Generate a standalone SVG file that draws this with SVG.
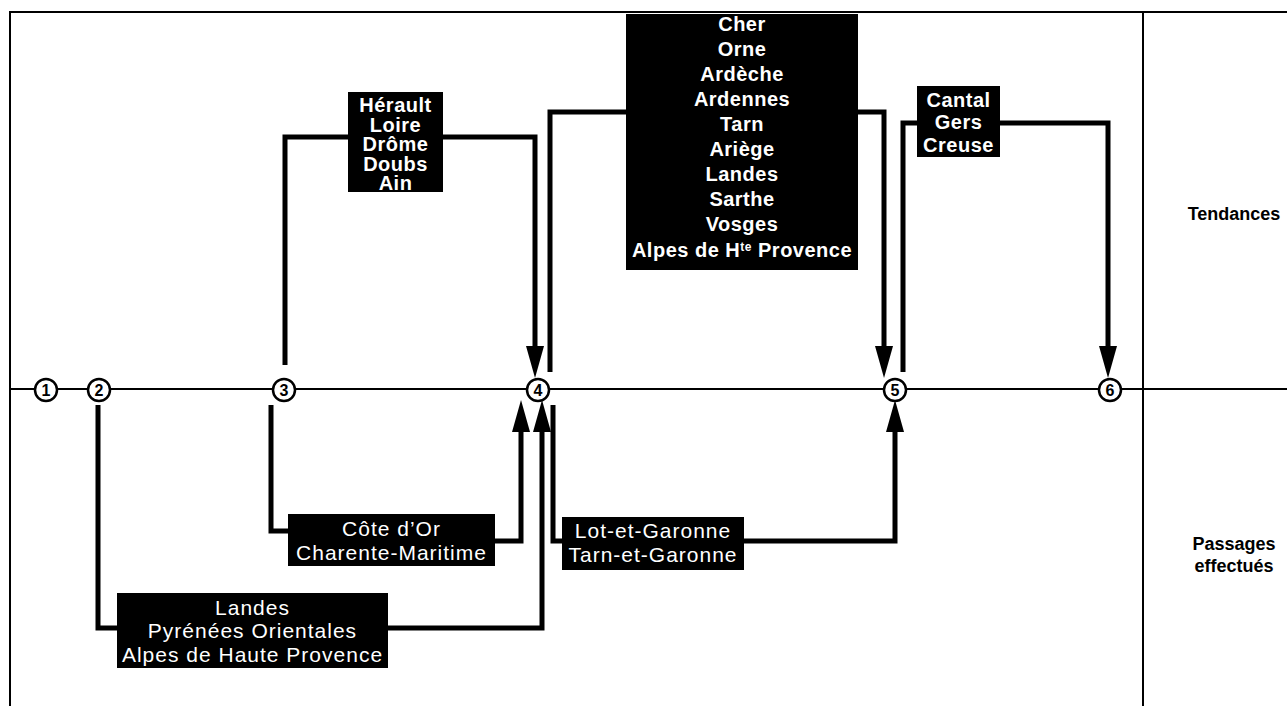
<svg xmlns="http://www.w3.org/2000/svg" width="1287" height="725" viewBox="0 0 1287 725">
<style>
.frame{stroke:#000;stroke-width:2;fill:none}
.conn{stroke:#000;stroke-width:5;fill:none;stroke-linejoin:miter}
.box{fill:#000}
.bt{fill:#fff;font-family:"Liberation Sans",Arial,sans-serif;text-anchor:middle}
.bb{font-weight:bold;font-size:20px;letter-spacing:0.5px}
.br{font-size:21px;letter-spacing:1px}
.lbl{fill:#000;font-family:"Liberation Sans",Arial,sans-serif;font-size:18px;font-weight:bold;text-anchor:middle}
.num circle{fill:#fff;stroke:#000;stroke-width:2.5}
.num text{fill:#000;font-family:"Liberation Sans",Arial,sans-serif;font-size:16px;font-weight:bold;text-anchor:middle}
</style>
<defs>
<marker id="ah" markerUnits="userSpaceOnUse" markerWidth="32" markerHeight="18" viewBox="0 0 32 18" refX="0" refY="9" orient="auto">
<path d="M0,0 L32,9 L0,18 Z" fill="#000"/>
</marker>
</defs>
<rect x="0" y="0" width="1287" height="725" fill="#fff"/>
<g id="frame">
<path class="frame" d="M10,706 V12 H1287"/>
<path class="frame" d="M1143,12 V706"/>
<path class="frame" d="M10,389 H1287"/>
</g>
<g id="connectors">
<path class="conn" d="M285,365 V137 H350"/>
<path class="conn" d="M441,137 H535 V346" marker-end="url(#ah)"/>
<path class="conn" d="M550,372 V112 H628"/>
<path class="conn" d="M856,112 H884 V346" marker-end="url(#ah)"/>
<path class="conn" d="M903,372 V123 H919"/>
<path class="conn" d="M998,123 H1108 V346" marker-end="url(#ah)"/>
<path class="conn" d="M271,405 V531 H290"/>
<path class="conn" d="M493,541 H521 V432" marker-end="url(#ah)"/>
<path class="conn" d="M98,405 V628 H119"/>
<path class="conn" d="M386,628 H542 V432" marker-end="url(#ah)"/>
<path class="conn" d="M553,405 V541 H564"/>
<path class="conn" d="M742,541 H895 V432" marker-end="url(#ah)"/>
</g>
<g id="n1" class="num"><circle cx="46" cy="390" r="11"/><text x="46" y="396">1</text></g>
<g id="n2" class="num"><circle cx="99" cy="390" r="11"/><text x="99" y="396">2</text></g>
<g id="n3" class="num"><circle cx="284" cy="390" r="11"/><text x="284" y="396">3</text></g>
<g id="n4" class="num"><circle cx="538" cy="390" r="11"/><text x="538" y="396">4</text></g>
<g id="n5" class="num"><circle cx="895" cy="390" r="11"/><text x="895" y="396">5</text></g>
<g id="n6" class="num"><circle cx="1110" cy="390" r="11"/><text x="1110" y="396">6</text></g>
<g id="b-herault">
<rect class="box" x="348" y="92" width="95" height="100"/>
<text class="bt bb" x="395.5"><tspan x="395.5" y="112">Hérault</tspan><tspan x="395.5" y="131.5">Loire</tspan><tspan x="395.5" y="151">Drôme</tspan><tspan x="395.5" y="170.5">Doubs</tspan><tspan x="395.5" y="190">Ain</tspan></text>
</g>
<g id="b-cher">
<rect class="box" x="626" y="14" width="232" height="256"/>
<text class="bt bb" x="742"><tspan x="742" y="31">Cher</tspan><tspan x="742" y="56">Orne</tspan><tspan x="742" y="81">Ardèche</tspan><tspan x="742" y="106">Ardennes</tspan><tspan x="742" y="131">Tarn</tspan><tspan x="742" y="156">Ariège</tspan><tspan x="742" y="181">Landes</tspan><tspan x="742" y="206">Sarthe</tspan><tspan x="742" y="231">Vosges</tspan><tspan x="742" y="257">Alpes de H<tspan font-size="12" dy="-6">te</tspan><tspan dy="6"> Provence</tspan></tspan></text>
</g>
<g id="b-cantal">
<rect class="box" x="917" y="86" width="83" height="71"/>
<text class="bt bb" x="958.5"><tspan x="958.5" y="107">Cantal</tspan><tspan x="958.5" y="129">Gers</tspan><tspan x="958.5" y="152">Creuse</tspan></text>
</g>
<g id="b-cote">
<rect class="box" x="288" y="514" width="207" height="52"/>
<text class="bt br" x="391.5"><tspan x="391.5" y="536">Côte d’Or</tspan><tspan x="391.5" y="560">Charente-Maritime</tspan></text>
</g>
<g id="b-landes">
<rect class="box" x="117" y="593" width="271" height="75"/>
<text class="bt br" x="252.5"><tspan x="252.5" y="615">Landes</tspan><tspan x="252.5" y="638">Pyrénées Orientales</tspan><tspan x="252.5" y="662">Alpes de Haute Provence</tspan></text>
</g>
<g id="b-lot">
<rect class="box" x="562" y="517" width="182" height="53"/>
<text class="bt br" x="653"><tspan x="653" y="538">Lot-et-Garonne</tspan><tspan x="653" y="562">Tarn-et-Garonne</tspan></text>
</g>
<g id="labels">
<text class="lbl" x="1234" y="220">Tendances</text>
<text class="lbl" x="1234" y="550">Passages</text>
<text class="lbl" x="1234" y="572">effectués</text>
</g>
</svg>
